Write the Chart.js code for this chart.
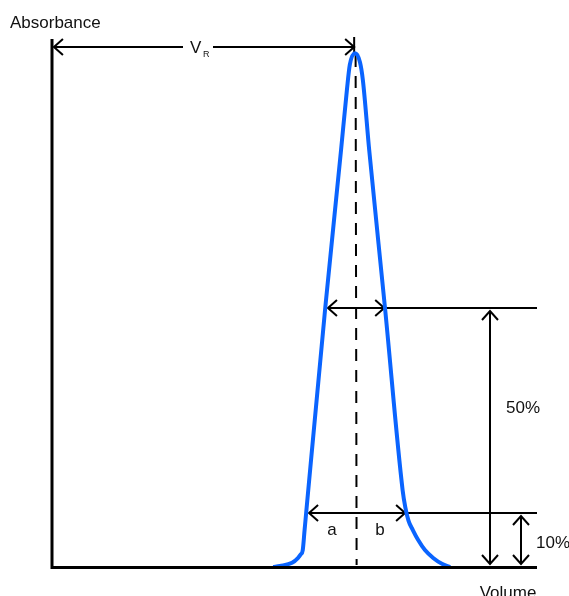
<!DOCTYPE html>
<html>
<head>
<meta charset="utf-8">
<script src="https://cdn.jsdelivr.net/npm/chart.js@4.4.1/dist/chart.umd.min.js"></script>
<style>
  html, body { margin: 0; padding: 0; background: #fff; }
  #wrap { width: 569px; height: 596px; position: relative; }
</style>
</head>
<body>
<div id="wrap"><canvas id="peakChart"></canvas></div>
<script>
// peak trace (volume, absorbance in % of full scale)
const volume = [45.6, 47.0, 49.5, 50.7, 51.3, 51.7, 52.08, 52.4, 56.3, 59.6, 60.8, 61.4, 62.5,
                63.5, 64.1, 65.4, 68.7, 72.3, 72.85, 73.5, 74.4, 75.5, 76.9, 78.6, 80.4, 82.1];
const absorbance = [0, 0.2, 0.8, 1.7, 2.4, 3.2, 7.0, 10.2, 48.7, 79.0, 90.3, 95.1, 97.3,
                    95.6, 92.2, 79.0, 48.7, 14.5, 11.3, 8.8, 7.0, 5.1, 3.2, 1.7, 0.6, 0];

// annotation values
const peakVolume = 62.6;
const halfHeight = 49;
const tenthHeight = 10.2;
const halfWidth = [56.9, 68.5];
const tenthWidth = [53.0, 72.8];
const halfArrowX = 90.3;
const tenthArrowX = 96.7;
const vrArrow = [0.4, 62.3];
const vrLevel = 98.5;

const ctx = document.getElementById('peakChart').getContext('2d');

function arrowHead(c, x, y, dir) {
    // dir: 'l', 'r', 'u', 'd'
    const L = 9, W = 8;
    c.beginPath();
    if (dir === 'l') { c.moveTo(x + L, y - W); c.lineTo(x, y); c.lineTo(x + L, y + W); }
    if (dir === 'r') { c.moveTo(x - L, y - W); c.lineTo(x, y); c.lineTo(x - L, y + W); }
    if (dir === 'u') { c.moveTo(x - W, y + L); c.lineTo(x, y); c.lineTo(x + W, y + L); }
    if (dir === 'd') { c.moveTo(x - W, y - L); c.lineTo(x, y); c.lineTo(x + W, y - L); }
    c.stroke();
}

function seg(c, x1, y1, x2, y2) {
    c.beginPath();
    c.moveTo(x1, y1);
    c.lineTo(x2, y2);
    c.stroke();
}

const annotations = {
    id: 'annotations',
    beforeDatasetsDraw(chart) {
        const c = chart.ctx;
        const xs = chart.scales.x, ys = chart.scales.y;
        const X = v => xs.getPixelForValue(v);
        const Y = v => ys.getPixelForValue(v);
        const a = chart.chartArea;
        c.save();
        c.strokeStyle = '#000';
        c.lineCap = 'butt';
        c.lineWidth = 2;

        // dashed centre line
        c.setLineDash([12, 9]);
        seg(c, X(peakVolume), Y(vrLevel) + 8, X(peakVolume) + 1, a.bottom - 2);
        c.setLineDash([]);

        // peak tick at top
        seg(c, X(vrArrow[1]), a.top - 2, X(vrArrow[1]), Y(vrLevel) + 8);

        // V_R arrow
        const vy = Math.round(Y(vrLevel));
        seg(c, X(vrArrow[0]), vy, 183, vy);
        seg(c, 213, vy, X(vrArrow[1]), vy);
        arrowHead(c, X(vrArrow[0]), vy, 'l');
        arrowHead(c, X(vrArrow[1]), vy, 'r');

        // 50% width line
        const hy = Math.round(Y(halfHeight));
        seg(c, X(halfWidth[0]), hy, a.right, hy);
        arrowHead(c, X(halfWidth[0]), hy, 'l');
        arrowHead(c, X(halfWidth[1]), hy, 'r');

        // 10% width line
        const ty = Math.round(Y(tenthHeight));
        seg(c, X(tenthWidth[0]), ty, a.right, ty);
        arrowHead(c, X(tenthWidth[0]), ty, 'l');
        arrowHead(c, X(tenthWidth[1]), ty, 'r');

        // vertical arrows
        const hx = Math.round(X(halfArrowX));
        seg(c, hx, hy + 3, hx, a.bottom - 3);
        arrowHead(c, hx, hy + 3, 'u');
        arrowHead(c, hx, a.bottom - 3, 'd');

        const tx = Math.round(X(tenthArrowX));
        seg(c, tx, ty + 3, tx, a.bottom - 3);
        arrowHead(c, tx, ty + 3, 'u');
        arrowHead(c, tx, a.bottom - 3, 'd');

        // text
        const f = '"Liberation Sans", Arial, sans-serif';
        c.fillStyle = '#111';
        c.font = '17px ' + f;
        c.textBaseline = 'alphabetic';
        c.textAlign = 'left';
        c.fillText('Absorbance', 10, 28);
        c.fillText('V', 190, 53);
        c.font = '9px ' + f;
        c.fillText('R', 203, 57);
        c.font = '17px ' + f;
        c.textAlign = 'center';
        c.fillText('50%', 523, 413);
        c.fillText('10%', 553, 548);
        c.fillText('a', 332, 535);
        c.fillText('b', 380, 535);
        c.fillText('Volume', 508, 598);
        c.restore();
    },
    afterDatasetsDraw(chart) {
        const c = chart.ctx;
        const a = chart.chartArea;
        c.save();
        c.strokeStyle = '#000';
        c.lineWidth = 3;
        seg(c, a.left, a.top, a.left, a.bottom + 2);
        seg(c, a.left - 1, a.bottom + 0.5, a.right, a.bottom + 0.5);
        c.restore();
    }
};

new Chart(ctx, {
    type: 'scatter',
    data: {
        datasets: [{
            label: 'Peak',
            data: volume.map((v, i) => ({ x: v, y: absorbance[i] })),
            showLine: true,
            borderColor: '#0a64ff',
            borderWidth: 4,
            pointRadius: 0,
            cubicInterpolationMode: 'monotone',
            fill: false
        }]
    },
    options: {
        responsive: true,
        maintainAspectRatio: false,
        animation: false,
        layout: { padding: { left: 52, right: 32, top: 39, bottom: 29 } },
        plugins: { legend: { display: false }, tooltip: { enabled: false } },
        scales: {
            x: { type: 'linear', min: 0, max: 100, display: false },
            y: { type: 'linear', min: 0, max: 100, display: false }
        }
    },
    plugins: [annotations]
});
</script>
</body>
</html>
